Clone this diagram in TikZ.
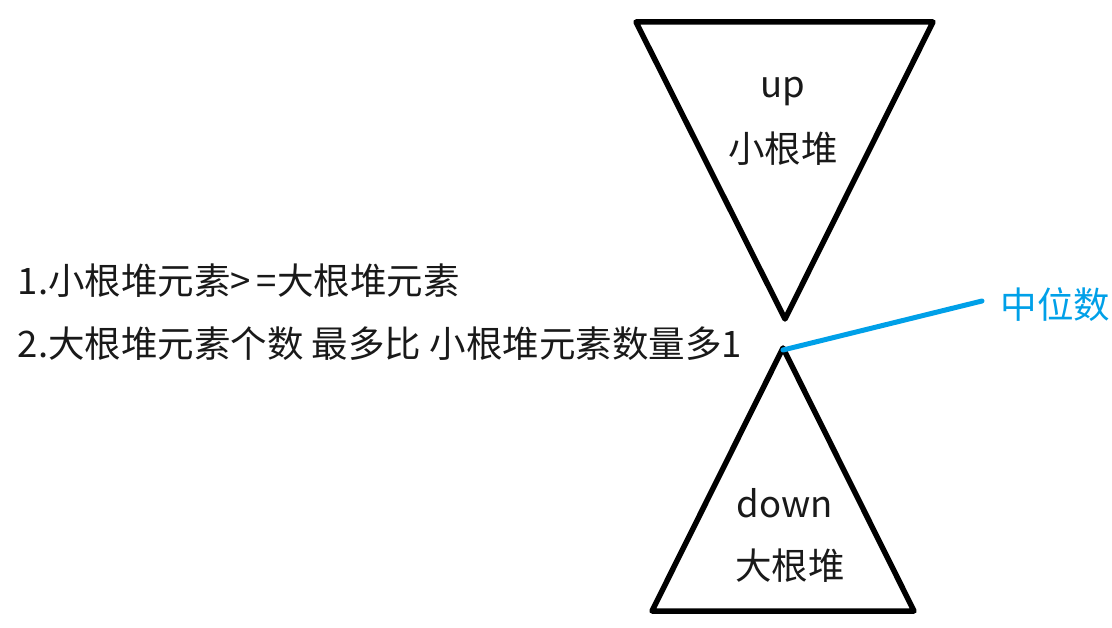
\documentclass[tikz,border=0pt]{standalone}
\usepackage{fontspec}
\setmainfont{Noto Sans CJK SC}
\usepackage{xcolor}
\usepackage{tikz}
\usetikzlibrary{positioning, calc}

\definecolor{midblue}{RGB}{0,160,232}

\begin{document}
\begin{tikzpicture}[x=1pt, y=-1pt, line width=5.5pt, line join=round]
        \tikzstyle{heapText} = [inner sep=0pt, font=\fontsize{36.5}{40}\selectfont, text=black!90]
        \tikzstyle{ruleText} = [heapText, anchor=west]
        \tikzstyle{midText} = [heapText, anchor=west, text=midblue]
        \tikzstyle{heapEdge} = [draw=black]

        \useasboundingbox (0,0) rectangle (1112,628);

        % upper heap (min heap), upside down
        \coordinate (upL) at (636,22);
        \coordinate (upR) at (933,22);
        \coordinate (upTip) at (785,319);
        \draw[heapEdge] (upL) -- (upR) -- (upTip) -- cycle;
        \node[heapText] (upName) at (783,92) {up};
        \node[heapText] (upHeap) at (783,149) {小根堆};

        % lower heap (max heap)
        \coordinate (downTip) at (783,348);
        \coordinate (downL) at (652,611);
        \coordinate (downR) at (914,611);
        \draw[heapEdge] (downTip) -- (downR) -- (downL) -- cycle;
        \node[heapText] (downName) at (785,503) {down};
        \node[heapText] (downHeap) at (790,566) {大根堆};

        % rules
        \node[ruleText] (rule1) at (15,281) {1.小根堆元素>\,=大根堆元素};
        \node[ruleText] (rule2) at (15,344) {2.大根堆元素个数 最多比 小根堆元素数量多1};

        % median
        \node[midText] (median) at (998,305) {中位数};
        \draw[draw=midblue, line width=5pt, line cap=round] ([yshift=-2pt]downTip) -- ([xshift=-16pt, yshift=4pt]median.west);
    \end{tikzpicture}
\end{document}
